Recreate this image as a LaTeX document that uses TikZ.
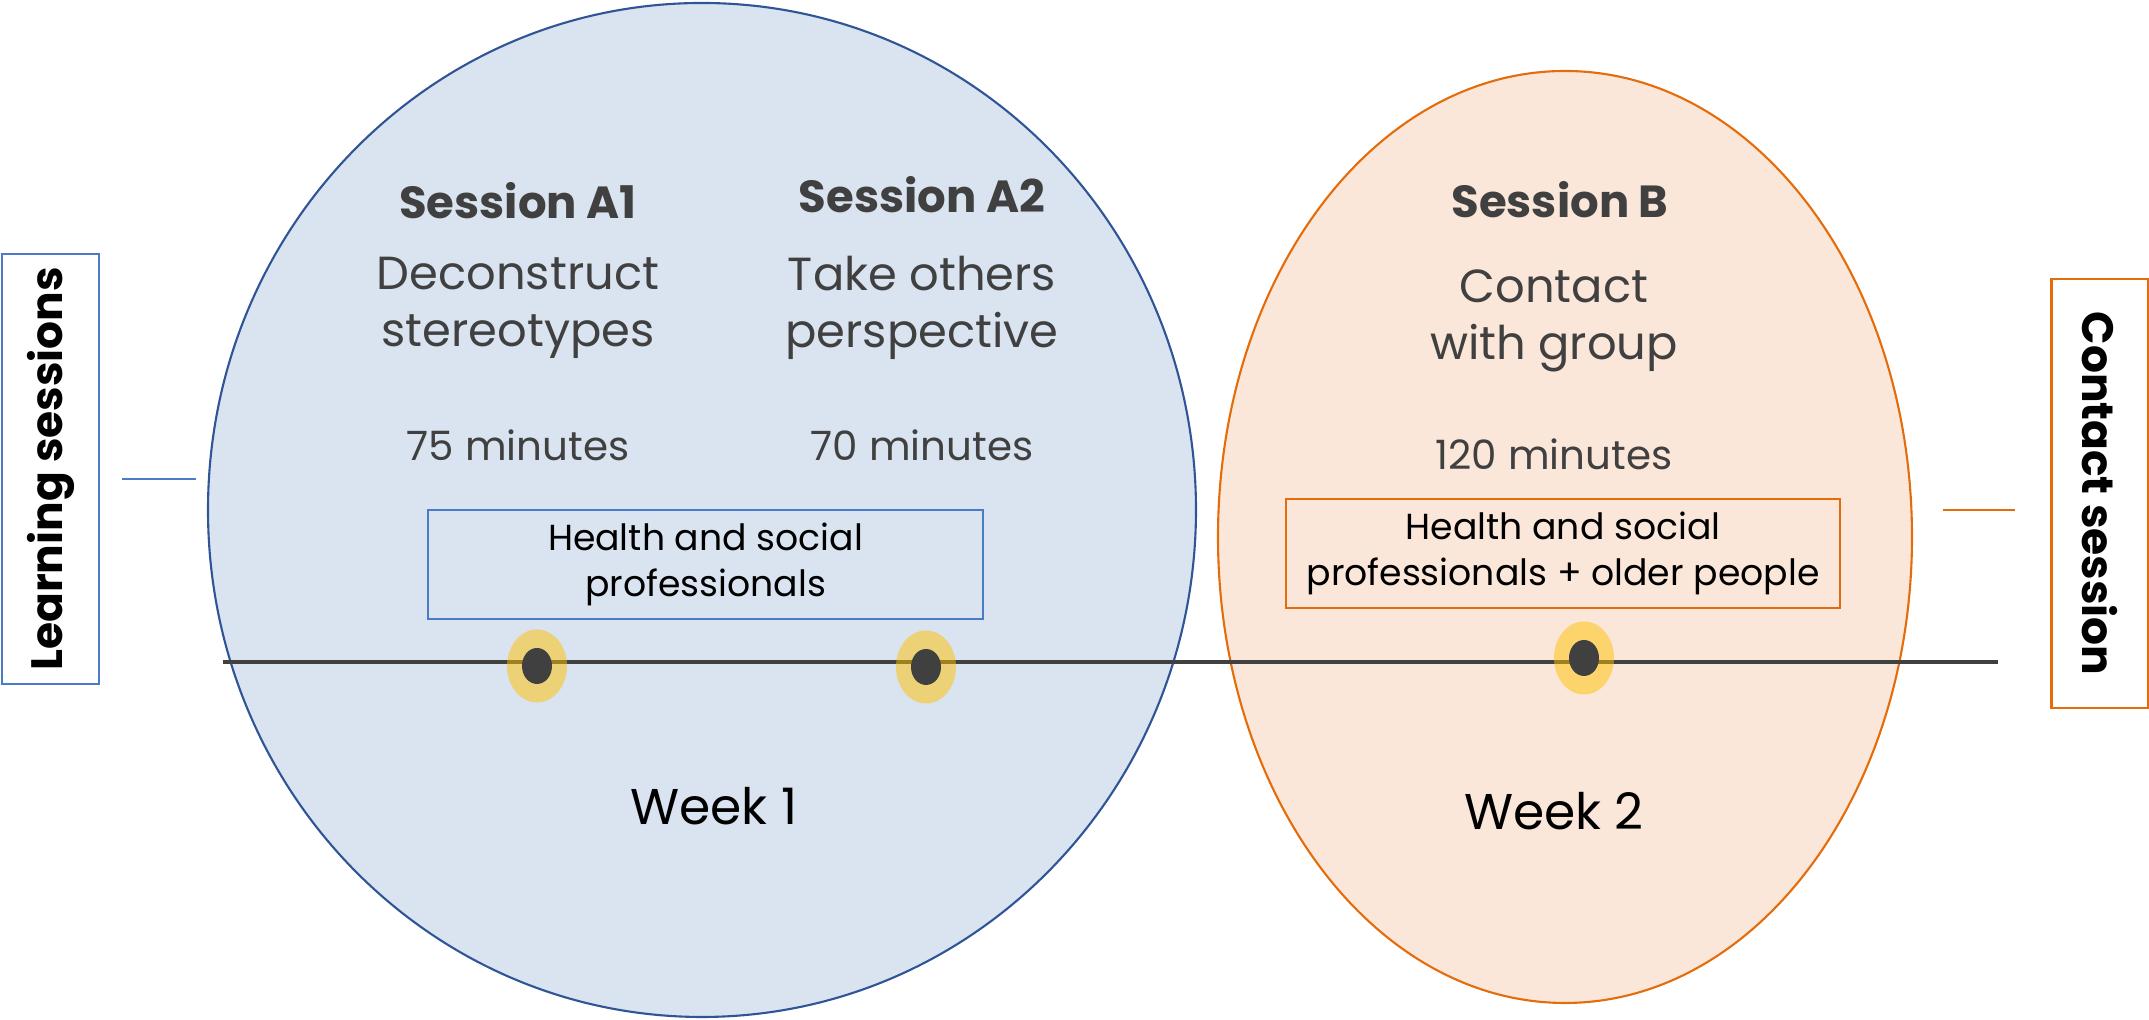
\documentclass[tikz,border=0pt]{standalone}
\usepackage{fontspec}
\setmainfont{Poppins}
\usetikzlibrary{positioning,shapes.geometric}
\definecolor{wkblue}{HTML}{DAE3F0}
\definecolor{wkblueline}{HTML}{2F5597}
\definecolor{boxblue}{HTML}{4A7BC8}
\definecolor{wkorange}{HTML}{FBE7D9}
\definecolor{wkorangeline}{HTML}{E46C0A}
\definecolor{halo}{HTML}{FFC000}
\definecolor{darkgrey}{HTML}{404040}
\def\Fs#1{\fontsize{#1}{1.2\dimexpr#1pt\relax}\selectfont}

\begin{document}
\begin{tikzpicture}[
    title/.style={text=darkgrey,font=\Fs{12.8}\bfseries},
    topic/.style={text=darkgrey,align=center,font=\fontsize{13.2}{16.2}\selectfont},
    minutes/.style={text=darkgrey,font=\Fs{11.5}},
    who/.style={draw,line width=0.6pt,align=center,font=\fontsize{10.3}{12.9}\selectfont},
    week/.style={font=\Fs{14.3}},
    side/.style={draw,line width=0.6pt,minimum width=0.97cm,font=\Fs{12.5}\bfseries},
    halo dot/.style={ellipse,fill=halo,fill opacity=0.5,minimum width=0.60cm,minimum height=0.73cm,inner sep=0pt},
    dark dot/.style={ellipse,fill=darkgrey,minimum width=0.30cm,minimum height=0.36cm,inner sep=0pt}]
  \useasboundingbox (0,0) rectangle (21.49,10.20);
  % the two weeks
  \draw[fill=wkblue,draw=wkblueline,line width=0.6pt] (7.02,5.10) ellipse (4.94 and 5.07);
  \draw[fill=wkorange,draw=wkorangeline,line width=0.6pt] (15.65,4.83) ellipse (3.47 and 4.66);

  % timeline
  \coordinate (t0) at (2.23,3.58);
  \coordinate (t1) at (19.98,3.58);
  \draw[darkgrey,line width=1.2pt] (t0) -- (t1);
  \foreach \n/\x/\y in {a1/5.37/3.54,a2/9.26/3.53,b/15.84/3.62}{
    \node[halo dot] (h\n) at (\x,\y) {};
    \node[dark dot] (d\n) at (\x,\y) {};
  }

  % week 1
  \node[title] (sa1) at (5.18,8.19) {Session A1};
  \node[title] (sa2) at (9.22,8.25) {Session A2};
  \node[topic] (ta1) at (5.18,7.12) {Deconstruct\\stereotypes};
  \node[topic] (ta2) at (9.22,7.12) {Take others\\perspective};
  \node[minutes] (ma1) at (5.18,5.75) {75 minutes};
  \node[minutes] (ma2) at (9.22,5.75) {70 minutes};
  \node[who,draw=boxblue,minimum width=5.55cm,minimum height=1.09cm] (wa) at (7.055,4.555) {Health and social\\professionals};
  \node[week] (w1) at (7.14,2.14) {Week 1};

  % week 2
  \node[title] (sb) at (15.60,8.20) {Session B};
  \node[topic] (tb) at (15.54,6.99) {Contact\\with group};
  \node[minutes] (mb) at (15.54,5.66) {120 minutes};
  \node[who,draw=wkorangeline,minimum width=5.54cm,minimum height=1.09cm] (wb) at (15.63,4.665) {Health and social\\professionals + older people};
  \node[week] (w2) at (15.54,2.09) {Week 2};

  % side labels
  \node[side,draw=boxblue,minimum height=4.30cm] (learn) at (0.505,5.51) {};
  \node[rotate=90,font=\Fs{12.5}\bfseries] (learntxt) at (learn.center) {Learning sessions};
  \node[side,draw=wkorangeline,minimum height=4.29cm] (contact) at (21.00,5.265) {};
  \node[rotate=-90,font=\Fs{12.5}\bfseries] (contacttxt) at (contact.center) {Contact session};
  \coordinate (l0) at (1.22,5.41);
  \coordinate (l1) at (1.96,5.41);
  \coordinate (c0) at (19.43,5.10);
  \coordinate (c1) at (20.15,5.10);
  \draw[boxblue,line width=0.4pt] (l0) -- (l1);
  \draw[wkorangeline,line width=0.4pt] (c0) -- (c1);
\end{tikzpicture}
\end{document}
